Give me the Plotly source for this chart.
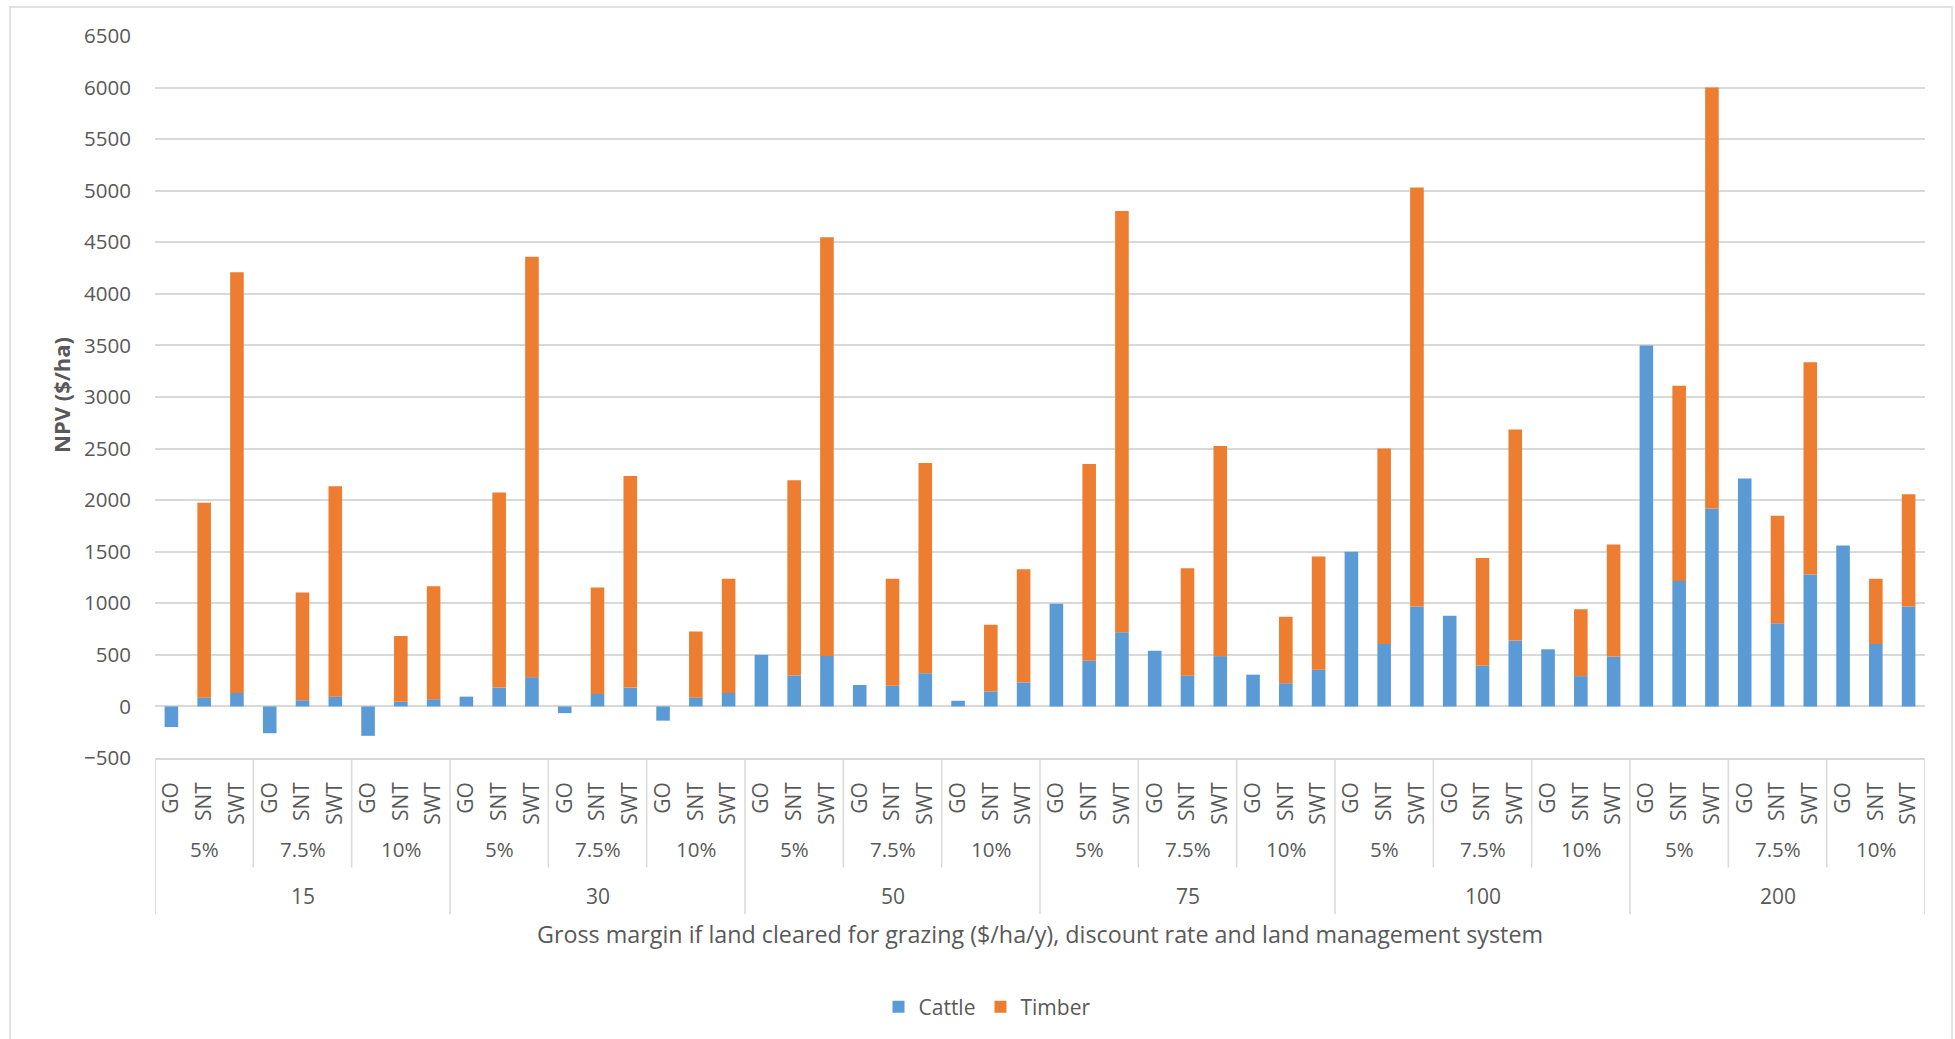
import plotly.graph_objects as go

# Category levels
margins = ["15", "30", "50", "75", "100", "200"]
rates = ["5%", "7.5%", "10%"]
systems = ["GO", "SNT", "SWT"]

# NPV components ($/ha), one row per gross margin, ordered rate -> system
cattle = [
    -200, 85, 130, -260, 60, 95, -285, 45, 70,
    95, 183, 284, -65, 121, 183, -138, 85, 131,
    500, 300, 490, 208, 200, 322, 55, 145, 232,
    995, 443, 720, 540, 298, 488, 308, 225, 356,
    1500, 606, 969, 879, 394, 640, 554, 294, 484,
    3500, 1215, 1920, 2210, 806, 1280, 1561, 606, 969,
]
timber = [
    0, 1890, 4080, 0, 1045, 2040, 0, 637, 1096,
    0, 1890, 4075, 0, 1031, 2050, 0, 642, 1108,
    0, 1894, 4059, 0, 1039, 2037, 0, 647, 1097,
    0, 1907, 4083, 0, 1041, 2038, 0, 644, 1097,
    0, 1894, 4063, 0, 1045, 2044, 0, 647, 1087,
    0, 1895, 4080, 0, 1042, 2057, 0, 633, 1089,
]

W, H = 1955, 1039
ML, MR, MT, MB = 155, 30, 36, 281
PW, PH = W - ML - MR, H - MT - MB
FONT = "Open Sans"
FS = 20.5
GREY = "#595959"
LINE = "#d9d9d9"


def px_x(p):
    return (p - ML) / PW


def px_y(p):
    return (H - MB - p) / PH


n_sys = len(systems)
n_rate = len(rates)
labels = [s for _ in margins for _ in rates for s in systems]
xs = list(range(len(labels)))

fig = go.Figure()
fig.add_bar(x=xs, y=cattle, name="Cattle", marker=dict(color="#5B9BD5", line=dict(width=0)))
fig.add_bar(x=xs, y=timber, name="Timber", marker=dict(color="#ED7D31", line=dict(width=0)))

shapes = []
annotations = []

# pixel rows for the nested category labels below the plot
y_axis_px = H - MB
y_rate_sep_px = 867.5
y_margin_sep_px = 914
y_rate_lbl_px = 849
y_margin_lbl_px = 896.5

group = n_sys * n_rate
for gi, m in enumerate(margins):
    start = gi * group
    shapes.append(dict(type="line", xref="x", yref="paper",
                       x0=start - 0.5, x1=start - 0.5,
                       y0=px_y(y_axis_px), y1=px_y(y_margin_sep_px),
                       line=dict(color=LINE, width=1.5)))
    annotations.append(dict(xref="x", yref="paper", x=start + (group - 1) / 2,
                            y=px_y(y_margin_lbl_px), text=m, showarrow=False,
                            font=dict(family=FONT, size=21, color=GREY),
                            xanchor="center", yanchor="middle"))
    for ri, r in enumerate(rates):
        rs = start + ri * n_sys
        if ri > 0:
            shapes.append(dict(type="line", xref="x", yref="paper",
                               x0=rs - 0.5, x1=rs - 0.5,
                               y0=px_y(y_axis_px), y1=px_y(y_rate_sep_px),
                               line=dict(color=LINE, width=1.5)))
        annotations.append(dict(xref="x", yref="paper", x=rs + (n_sys - 1) / 2,
                                y=px_y(y_rate_lbl_px), text=r, showarrow=False,
                                font=dict(family=FONT, size=FS, color=GREY),
                                xanchor="center", yanchor="middle"))
shapes.append(dict(type="line", xref="x", yref="paper",
                   x0=len(labels) - 0.5, x1=len(labels) - 0.5,
                   y0=px_y(y_axis_px), y1=px_y(y_margin_sep_px),
                   line=dict(color=LINE, width=1.5)))

# chart border
shapes.append(dict(type="rect", xref="paper", yref="paper",
                   x0=px_x(10), x1=px_x(1952), y0=px_y(1046), y1=px_y(7),
                   line=dict(color=LINE, width=1.5), fillcolor="rgba(0,0,0,0)"))

# axis titles
annotations.append(dict(xref="paper", yref="paper", x=px_x(1040), y=px_y(934),
                        text="Gross margin if land cleared for grazing ($/ha/y), discount rate and land management system",
                        showarrow=False, font=dict(family=FONT, size=23.3, color=GREY),
                        xanchor="center", yanchor="middle"))
annotations.append(dict(xref="paper", yref="paper", x=px_x(61), y=px_y(395),
                        text="<b>NPV ($/ha)</b>", textangle=-90,
                        showarrow=False, font=dict(family=FONT, size=22, color=GREY),
                        xanchor="center", yanchor="middle"))

fig.update_layout(
    width=W, height=H,
    margin=dict(l=ML, r=MR, t=MT, b=MB),
    paper_bgcolor="white", plot_bgcolor="white",
    barmode="relative", bargap=0.585,
    font=dict(family=FONT, size=FS, color=GREY),
    showlegend=True,
    legend=dict(orientation="h", x=px_x(987), xanchor="center",
                y=px_y(1007), yanchor="middle",
                font=dict(family=FONT, size=21, color=GREY),
                itemwidth=30, traceorder="normal"),
    shapes=shapes,
    annotations=annotations,
    xaxis=dict(range=[-0.5, len(labels) - 0.5], tickmode="array", tickvals=xs,
               ticktext=labels, tickangle=-90, showgrid=False, zeroline=False,
               showline=True, linecolor=LINE, linewidth=1.5, ticks="",
               ticklabelstandoff=14,
               tickfont=dict(family=FONT, size=21, color=GREY), fixedrange=True),
    yaxis=dict(range=[-500, 6500], tick0=0, dtick=500, showgrid=True,
               gridcolor=LINE, gridwidth=1.5, zeroline=False, showline=False,
               ticks="", ticklabelstandoff=23,
               tickfont=dict(family=FONT, size=FS, color=GREY), fixedrange=True),
)

fig.write_html("out.html")
